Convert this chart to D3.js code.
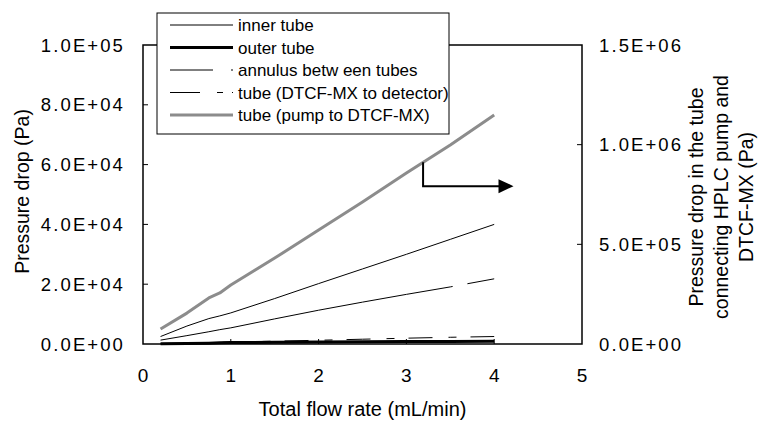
<!DOCTYPE html>
<html>
<head>
<meta charset="utf-8">
<script src="https://cdn.jsdelivr.net/npm/d3@7"></script>
<style>
    body { margin: 0; background: #fff; }
    text { font-family: 'Liberation Sans', Arial, sans-serif; fill: #000; }
</style>
</head>
<body>
<script>
// flow rate (mL/min) and pressure drops (Pa)
const flowRate = [0.2, 0.5, 0.75, 0.875, 1, 1.5, 2, 2.5, 3, 3.5, 4];
const innerTube = [2500, 6000, 8500, 9400, 10400, 15200, 20200, 25100, 30000, 35000, 40000];
const outerTube = [100, 200, 280, 400, 480, 560, 650, 740, 800, 860, 900];
const annulus = [1300, 2800, 4100, 4800, 5400, 8400, 11300, 14000, 16600, 19100, 21800];
const tubeToDetector = [150, 320, 480, 560, 640, 950, 1250, 1600, 1950, 2250, 2500];
const tubePumpToMixer = [75000, 155000, 231000, 256000, 296000, 431000, 572000, 712000, 858000, 998000, 1149000];

const seriesNames = ['inner tube', 'outer tube', 'annulus betw een tubes', 'tube (DTCF-MX to detector)', 'tube (pump to DTCF-MX)'];
const xTicks = [0, 1, 2, 3, 4, 5];
const leftTicks = [0, 20000, 40000, 60000, 80000, 100000];
const rightTicks = [0, 500000, 1000000, 1500000];

const W = 760;
const H = 423;
const plot = { left: 143, right: 582, top: 45, bottom: 344 };

const x = d3.scaleLinear().domain([0, 5]).range([plot.left, plot.right]);
const yL = d3.scaleLinear().domain([0, 100000]).range([plot.bottom, plot.top]);
const yR = d3.scaleLinear().domain([0, 1500000]).range([plot.bottom, plot.top]);

const sci = (v) => v.toExponential(1).toUpperCase()
    .replace(/E([+-])(\d+)$/, (m, s, e) => 'E' + s + e.padStart(2, '0'));

const svg = d3.select('body').append('svg')
    .attr('width', W)
    .attr('height', H);

const series = [
    { name: seriesNames[0], values: innerTube, scale: yL, color: '#000', width: 1, dash: null, legendDash: null },
    { name: seriesNames[1], values: outerTube, scale: yL, color: '#000', width: 3, dash: null, legendDash: null },
    { name: seriesNames[2], values: annulus, scale: yL, color: '#000', width: 1, dash: 'gap', legendDash: '43,18,2,40' },
    { name: seriesNames[3], values: tubeToDetector, scale: yL, color: '#000', width: 1, dash: '24,16,8,14', legendDash: '30,17,6,9,2,40' },
    { name: seriesNames[4], values: tubePumpToMixer, scale: yR, color: '#8c8c8c', width: 3, dash: null, legendDash: null },
];

// frame
svg.append('rect')
    .attr('x', plot.left)
    .attr('y', plot.top)
    .attr('width', plot.right - plot.left)
    .attr('height', plot.bottom - plot.top)
    .attr('fill', 'none')
    .attr('stroke', '#000')
    .attr('stroke-width', 1.5);

// inward ticks
svg.append('g').selectAll('line')
    .data(xTicks.slice(1, -1))
    .enter().append('line')
    .attr('x1', d => x(d)).attr('x2', d => x(d))
    .attr('y1', plot.bottom).attr('y2', plot.bottom - 5)
    .attr('stroke', '#000');

svg.append('g').selectAll('line')
    .data(leftTicks.slice(1, -1))
    .enter().append('line')
    .attr('x1', plot.left).attr('x2', plot.left + 5)
    .attr('y1', d => yL(d)).attr('y2', d => yL(d))
    .attr('stroke', '#000');

svg.append('g').selectAll('line')
    .data(rightTicks.slice(1, -1))
    .enter().append('line')
    .attr('x1', plot.right).attr('x2', plot.right - 5)
    .attr('y1', d => yR(d)).attr('y2', d => yR(d))
    .attr('stroke', '#000');

// tick labels
svg.append('g').selectAll('text')
    .data(xTicks)
    .enter().append('text')
    .attr('x', d => x(d))
    .attr('y', 382)
    .attr('text-anchor', 'middle')
    .style('font-size', '19px')
    .text(d => d);

svg.append('g').selectAll('text')
    .data(leftTicks)
    .enter().append('text')
    .attr('x', 125)
    .attr('y', d => yL(d))
    .attr('dy', '0.36em')
    .attr('text-anchor', 'end')
    .style('font-size', '18.5px')
    .style('letter-spacing', '2.1px')
    .text(sci);

svg.append('g').selectAll('text')
    .data(rightTicks)
    .enter().append('text')
    .attr('x', 599)
    .attr('y', d => yR(d))
    .attr('dy', '0.36em')
    .style('font-size', '18.5px')
    .style('letter-spacing', '2.1px')
    .text(sci);

// axis titles
svg.append('text')
    .attr('x', (plot.left + plot.right) / 2)
    .attr('y', 416)
    .attr('text-anchor', 'middle')
    .style('font-size', '20px')
    .text('Total flow rate (mL/min)');

svg.append('text')
    .attr('transform', `translate(29,${(plot.top + plot.bottom) / 2 - 3}) rotate(-90)`)
    .attr('text-anchor', 'middle')
    .style('font-size', '19.5px')
    .text('Pressure drop (Pa)');

const rightTitle = svg.append('text')
    .attr('transform', `translate(703,197) rotate(-90)`)
    .attr('text-anchor', 'middle')
    .style('font-size', '19.5px');
['Pressure drop in the tube', 'connecting HPLC pump and', 'DTCF-MX (Pa)'].forEach((t, i) => {
    rightTitle.append('tspan')
        .attr('x', 0)
        .attr('y', i * 25)
        .text(t);
});

// lines
const paths = svg.append('g').selectAll('path')
    .data(series)
    .enter().append('path')
    .attr('d', s => d3.line()
        .x((d, i) => x(flowRate[i]))
        .y(d => s.scale(d))(s.values))
    .attr('fill', 'none')
    .attr('stroke', s => s.color)
    .attr('stroke-width', s => s.width)
    .attr('stroke-linejoin', 'round')
    .attr('stroke-dasharray', s => (s.dash === 'gap' ? null : s.dash));

// annulus line: one break near 3.5 mL/min
paths.filter(s => s.dash === 'gap').each(function () {
    const total = this.getTotalLength();
    let l = 0;
    while (l < total && this.getPointAtLength(l).x < x(3.52)) l += 1;
    d3.select(this).attr('stroke-dasharray', `${l},15,${total}`);
});

// arrow pointing to right axis
const arrowFlow = 3.19;
const k = d3.bisectLeft(flowRate, arrowFlow);
const t = (arrowFlow - flowRate[k - 1]) / (flowRate[k] - flowRate[k - 1]);
const arrowTop = yR(tubePumpToMixer[k - 1] + t * (tubePumpToMixer[k] - tubePumpToMixer[k - 1]));
const arrowY = yL(52800);
const arrowEnd = x(4.22);

svg.append('path')
    .attr('d', `M${x(arrowFlow)},${arrowTop}V${arrowY}H${arrowEnd - 14}`)
    .attr('fill', 'none')
    .attr('stroke', '#000')
    .attr('stroke-width', 2);

svg.append('path')
    .attr('d', `M${arrowEnd - 15},${arrowY - 7}L${arrowEnd},${arrowY}L${arrowEnd - 15},${arrowY + 7}Z`)
    .attr('fill', '#000');

// legend
const legend = svg.append('g');
legend.append('rect')
    .attr('x', 157)
    .attr('y', 13)
    .attr('width', 292)
    .attr('height', 121)
    .attr('fill', '#fff')
    .attr('stroke', '#000')
    .attr('stroke-width', 1);

const row = legend.selectAll('.row')
    .data(series)
    .enter().append('g')
    .attr('class', 'row')
    .attr('transform', (d, i) => `translate(0,${25 + i * 22.5})`);

row.append('line')
    .attr('x1', 170).attr('x2', 233)
    .attr('stroke', s => s.color)
    .attr('stroke-width', s => s.width)
    .attr('stroke-dasharray', s => s.legendDash);

row.append('text')
    .attr('x', 238)
    .attr('dy', '0.36em')
    .style('font-size', '17px')
    .text(s => s.name);
</script>
</body>
</html>
